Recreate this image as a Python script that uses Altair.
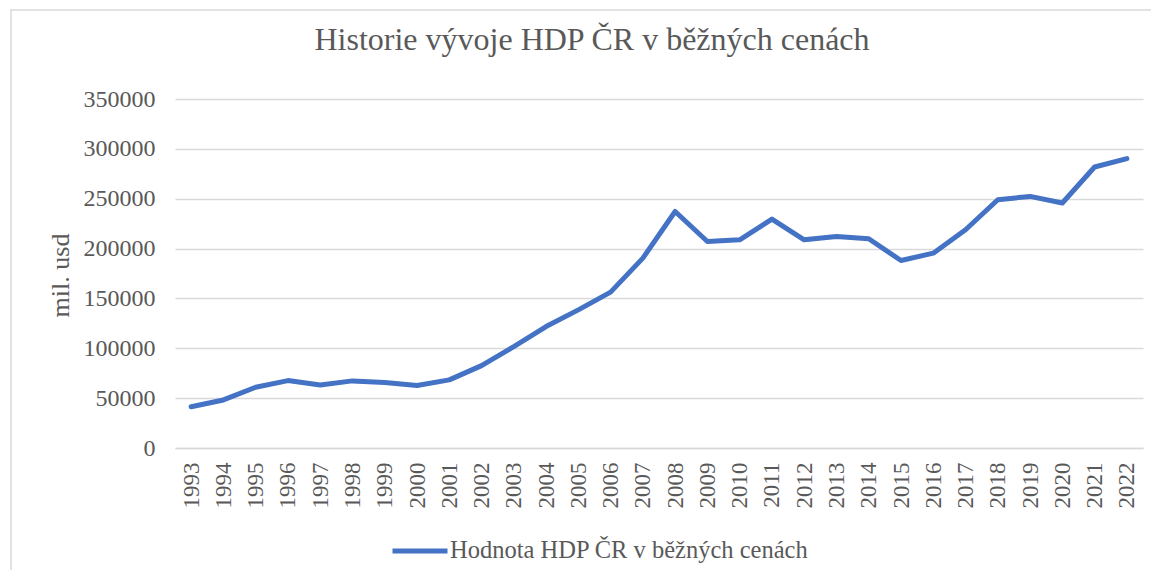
import altair as alt
import pandas as pd

years = [str(y) for y in range(1993, 2023)]
values = [41400, 48200, 60900, 67600, 63200, 67300, 65600, 62600, 68300, 82600,
          101700, 121800, 138500, 156300, 190400, 237200, 207100, 208800, 229600, 208800,
          212200, 209800, 188000, 195400, 218900, 249000, 252300, 245700, 281800, 290200]
series_name = "Hodnota HDP ČR v běžných cenách"
chart_title = "Historie vývoje HDP ČR v běžných cenách"
y_ticks = [0, 50000, 100000, 150000, 200000, 250000, 300000, 350000]

df = pd.DataFrame({"rok": years, "hodnota": values, "serie": [series_name] * len(years)})

FONT = "Liberation Serif"
GREY = "#595959"

frame = alt.Chart(pd.DataFrame({"a": [0]})).mark_rect(
    fill="transparent", stroke="#D9D9D9", strokeWidth=1.5
).encode(x=alt.value(-164), y=alt.value(-89), x2=alt.value(2000), y2=alt.value(1000))

title = alt.Chart(pd.DataFrame({"t": [chart_title]})).mark_text(
    font=FONT, fontSize=32, color=GREY, align="center", baseline="alphabetic"
).encode(text="t:N", x=alt.value(592 - 175), y=alt.value(50 - 99))

line = alt.Chart(df).mark_line(
    strokeWidth=5, strokeCap="round", strokeJoin="round"
).encode(
    x=alt.X("rok:O", sort=years, title=None,
            scale=alt.Scale(type="point", padding=0.5),
            axis=alt.Axis(labelAngle=-90, labelFont=FONT, labelFontSize=23, labelColor=GREY,
                          labelPadding=14, ticks=False, domain=True, domainColor="#D9D9D9",
                          domainWidth=1.5, grid=False, labelAlign="right", labelBaseline="middle")),
    y=alt.Y("hodnota:Q", scale=alt.Scale(domain=[0, 350000], nice=False),
            axis=alt.Axis(values=y_ticks, format="d", title="mil. usd", titleFont=FONT,
                          titleFontSize=26, titleFontWeight="normal", titleColor=GREY,
                          titleAngle=-90, titleX=-107, titleY=176, titleAlign="center",
                          titleBaseline="alphabetic",
                          labelFont=FONT, labelFontSize=24, labelColor=GREY, labelPadding=20,
                          ticks=False, domain=False, grid=True, gridColor="#D9D9D9",
                          gridWidth=1.5)),
    color=alt.Color("serie:N", scale=alt.Scale(range=["#4472C4"]),
                    legend=alt.Legend(title=None, orient="none", legendX=215, legendY=422,
                                      symbolType="stroke", symbolStrokeWidth=5,
                                      symbolSize=3025, labelFont=FONT, labelFontSize=24.5,
                                      labelColor=GREY, labelOffset=0, labelLimit=600)),
)

chart = alt.layer(frame, line, title).properties(
    width=968, height=349,
    padding={"left": 167, "top": 91, "right": 8, "bottom": 122},
    autosize=alt.AutoSizeParams(type="none"),
).configure_view(stroke=None)

chart.save("out.html", embed_options={"renderer": "svg", "actions": False})
